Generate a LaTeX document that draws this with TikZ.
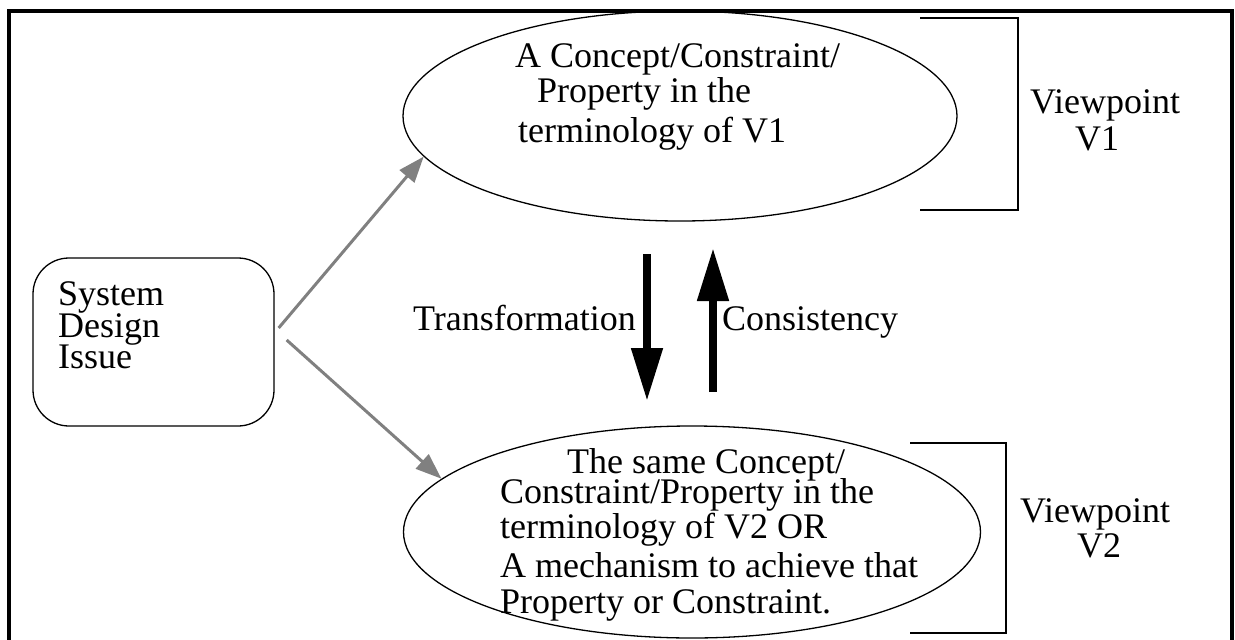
\documentclass[tikz,border=0pt]{standalone}
\usepackage{fontspec}
\setmainfont{Liberation Serif}
\usetikzlibrary{shapes.geometric,arrows.meta,calc}
\definecolor{feedgray}{RGB}{128,128,128}
\begin{document}
\begin{tikzpicture}[x=1pt,y=-1pt,
  lbl/.style={anchor=base west, inner sep=0, font=\fontsize{36}{38}\selectfont},
  bubble/.style={ellipse, draw, line width=1.3pt, inner sep=0},
  feed/.style={draw=feedgray, line width=3pt, -{Triangle[length=26pt,width=19pt]}},
  bigarrow/.style={line width=8pt, -{Triangle[length=53pt,width=30pt]}},
  bracket/.style={line width=2.5pt}]
\useasboundingbox (0,0) rectangle (1235,640);

% outer frame
\draw[line width=3.5pt] (9,11) rectangle (1232,660);

% issue box
\node[draw, line width=1.3pt, rounded corners=36pt, minimum width=241pt, minimum height=168pt, inner sep=0] (sys) at (153.5,342) {};
\node[lbl] (sysA) at (58,305) {System};
\node[lbl] (sysB) at (58,337) {Design};
\node[lbl] (sysC) at (58,368) {Issue};

% viewpoint V1 bubble
\node[bubble, minimum width=554pt, minimum height=210pt] (v1) at (680,116) {};
\node[lbl] (v1a) at (515,67) {A Concept/Constraint/};
\node[lbl] (v1b) at (537,102) {Property in the};
\node[lbl] (v1c) at (518,142) {terminology of V1};

% viewpoint V2 bubble
\node[bubble, minimum width=577pt, minimum height=212pt] (v2) at (692,532) {};
\node[lbl] (v2a) at (567,473) {The same Concept/};
\node[lbl] (v2b) at (500,503) {Constraint/Property in the};
\node[lbl] (v2c) at (500,538) {terminology of V2 OR};
\node[lbl] (v2d) at (500,577) {A mechanism to achieve that};
\node[lbl] (v2e) at (500,613) {Property or Constraint.};

% feeds from the issue box
\coordinate (fa) at ($(sys.east)+(4,-14)$);
\coordinate (fb) at ($(sys.east)+(12,-2)$);
\draw[feed] (fa) -- (v1.189.7);
\draw[feed] (fb) -- (v2.168.4);

% transformation / consistency
\coordinate (t0) at (647,254);
\coordinate (t1) at (647,401);
\coordinate (c0) at (713,392);
\coordinate (c1) at (713,248);
\draw[bigarrow] (t0) -- (t1);
\draw[bigarrow] (c0) -- (c1);
\node[lbl] (tlab) at (413,330) {Transformation};
\node[lbl] (clab) at (722,330) {Consistency};

% viewpoint brackets
\draw[bracket] (920,18) -| (1018,210) -- (920,210);
\draw[bracket] (910,443) -| (1006,633) -- (910,633);
\node[lbl] (vp1a) at (1030,113) {Viewpoint};
\node[lbl] (vp1b) at (1075,150) {V1};
\node[lbl] (vp2a) at (1020,522) {Viewpoint};
\node[lbl] (vp2b) at (1077,557) {V2};
\end{tikzpicture}
\end{document}
